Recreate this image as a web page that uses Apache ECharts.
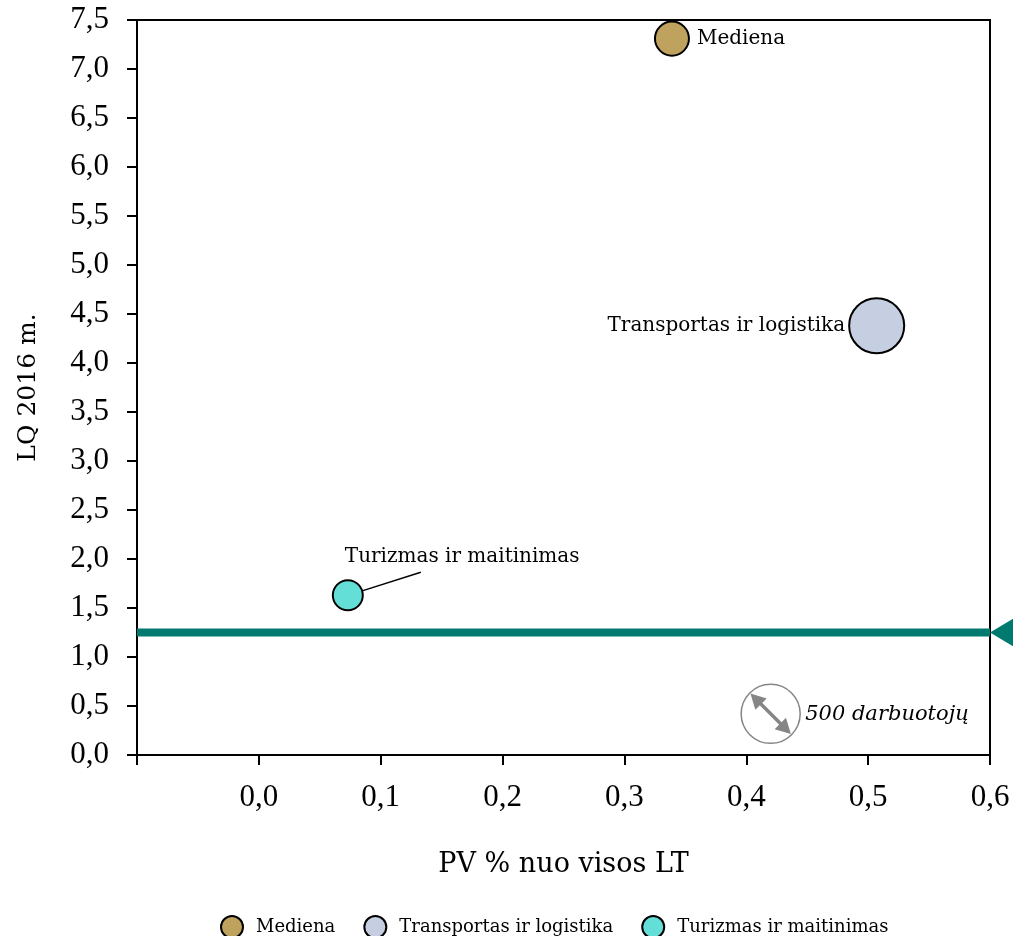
<!DOCTYPE html>
<html>
<head>
<meta charset="utf-8">
<script src="https://cdn.jsdelivr.net/npm/echarts@6/dist/echarts.min.js"></script>
<style>html,body{margin:0;padding:0;background:#fff}#c{width:1013px;height:936px}</style>
</head>
<body>
<div id="c"></div>
<script>
// ---- data ----
const categories = ['Mediena', 'Transportas ir logistika', 'Turizmas ir maitinimas'];
const pvShare = [0.339, 0.507, 0.073];        // PV % nuo visos LT
const lq2016 = [7.31, 4.38, 1.63];            // LQ 2016 m.
const employees = [166, 435, 129];            // bubble size (darbuotojai)
const keyEmployees = [500];                   // size key
const keyPos = [0.42, 0.42];                  // size key location (data coords)
const lqThreshold = [1.25];                   // reference line
const xAxisRange = [-0.1, 0.6];
const yAxisRange = [0, 7.5];

// ---- styles ----
const fills = ['#BFA25E', '#C6CFE1', '#63DFD7'];
const teal = '#007A6F';
const serif = 'DejaVu Serif';
const numFont = 'Liberation Serif';
const sizeFn = v => 2.64 * Math.sqrt(v);

const chart = echarts.init(document.getElementById('c'), null, {renderer: 'canvas'});

const labelCfg = [
  {show: true, position: 'right', distance: 7},
  {show: true, position: 'left', distance: 3},
  {show: true, position: [13, -22], align: 'left', verticalAlign: 'middle'}
];

const bubbleSeries = categories.map((name, i) => ({
  name: name,
  type: 'scatter',
  data: [[pvShare[i], lq2016[i], employees[i]]],
  symbolSize: d => sizeFn(d[2]),
  itemStyle: {color: fills[i], borderColor: '#000', borderWidth: 2, opacity: 1},
  label: Object.assign({formatter: name, color: '#000', fontFamily: serif, fontSize: 20}, labelCfg[i]),
  emphasis: {disabled: true},
  z: 3
}));

const option = {
  animation: false,
  backgroundColor: '#fff',
  grid: {left: 137, right: 23, top: 20, bottom: 181, show: true, borderColor: '#000', borderWidth: 2},
  xAxis: {
    type: 'value', min: xAxisRange[0], max: xAxisRange[1], interval: 0.1,
    name: 'PV % nuo visos LT', nameLocation: 'middle', nameGap: 96,
    nameTextStyle: {fontFamily: serif, fontSize: 27, color: '#000'},
    axisLine: {show: true, onZero: false, lineStyle: {color: '#000', width: 2}},
    axisTick: {show: true, length: 10, lineStyle: {color: '#000', width: 2}},
    axisLabel: {
      margin: 27, color: '#000', fontFamily: numFont, fontSize: 31,
      formatter: v => v < -0.05 ? '' : v.toFixed(1).replace('.', ',')
    },
    splitLine: {show: false}
  },
  yAxis: {
    type: 'value', min: yAxisRange[0], max: yAxisRange[1], interval: 0.5,
    name: 'LQ 2016 m.', nameLocation: 'middle', nameGap: 96,
    nameTextStyle: {fontFamily: serif, fontSize: 25, color: '#000'},
    axisLine: {show: true, onZero: false, lineStyle: {color: '#000', width: 2}},
    axisTick: {show: true, length: 10, lineStyle: {color: '#000', width: 2}},
    axisLabel: {
      margin: 28, color: '#000', fontFamily: numFont, fontSize: 31,
      formatter: v => v.toFixed(1).replace('.', ',')
    },
    splitLine: {show: false}
  },
  legend: {
    data: categories,
    left: 215, top: 910,
    icon: 'circle', itemWidth: 22, itemHeight: 22, itemGap: 28,
    textStyle: {fontFamily: serif, fontSize: 18, color: '#000', padding: [0, 0, 0, 8]}
  },
  series: bubbleSeries.concat([
    {
      name: 'threshold',
      type: 'line',
      data: [[xAxisRange[0], lqThreshold[0]], [xAxisRange[1], lqThreshold[0]]],
      symbol: 'none',
      lineStyle: {color: teal, width: 8},
      silent: true,
      z: 2
    },
    {
      name: 'threshold-arrow',
      type: 'scatter',
      data: [[xAxisRange[1], lqThreshold[0]]],
      symbol: 'triangle',
      symbolSize: [38, 32],
      symbolRotate: 90,
      symbolOffset: [16, 0],
      clip: false,
      itemStyle: {color: teal, opacity: 1},
      silent: true,
      z: 4
    },
    {
      name: 'size-key',
      type: 'custom',
      data: [[keyPos[0], keyPos[1], keyEmployees[0]]],
      silent: true,
      renderItem: (params, api) => {
        const c = api.coord([api.value(0), api.value(1)]);
        const r = sizeFn(api.value(2)) / 2;
        const u = [Math.SQRT1_2, Math.SQRT1_2], n = [-Math.SQRT1_2, Math.SQRT1_2];
        const d = r * 0.97, L = 15, w = 8;
        const S = [c[0] - u[0] * d, c[1] - u[1] * d];
        const E = [c[0] + u[0] * d, c[1] + u[1] * d];
        const head = (P, s) => [
          [P[0], P[1]],
          [P[0] - s * u[0] * L + n[0] * w, P[1] - s * u[1] * L + n[1] * w],
          [P[0] - s * u[0] * L - n[0] * w, P[1] - s * u[1] * L - n[1] * w]
        ];
        const grey = '#858585';
        return {
          type: 'group',
          children: [
            {type: 'circle', shape: {cx: c[0], cy: c[1], r: r}, style: {fill: '#fff', stroke: grey, lineWidth: 1.5}},
            {type: 'line', shape: {x1: S[0] + u[0] * L * 0.8, y1: S[1] + u[1] * L * 0.8, x2: E[0] - u[0] * L * 0.8, y2: E[1] - u[1] * L * 0.8}, style: {stroke: grey, lineWidth: 3.5}},
            {type: 'polygon', shape: {points: head(E, 1)}, style: {fill: grey}},
            {type: 'polygon', shape: {points: head(S, -1)}, style: {fill: grey}},
            {type: 'text', style: {text: api.value(2) + ' darbuotojų', x: c[0] + r + 5, y: c[1] + 1, verticalAlign: 'middle', align: 'left', font: 'italic 21px "DejaVu Serif"', fill: '#000'}}
          ]
        };
      },
      z: 3
    }
  ])
};

chart.setOption(option);

// leader line for the "Turizmas ir maitinimas" label
const tp = chart.convertToPixel({gridIndex: 0}, [pvShare[2], lq2016[2]]);
const tr = sizeFn(employees[2]) / 2;
const ang = -17 * Math.PI / 180;
chart.setOption({
  graphic: [{
    type: 'line', silent: true, z: 10,
    shape: {x1: tp[0] + tr * Math.cos(ang), y1: tp[1] + tr * Math.sin(ang), x2: tp[0] + 73, y2: tp[1] - 23},
    style: {stroke: '#000', lineWidth: 1.5}
  }]
});
</script>
</body>
</html>
